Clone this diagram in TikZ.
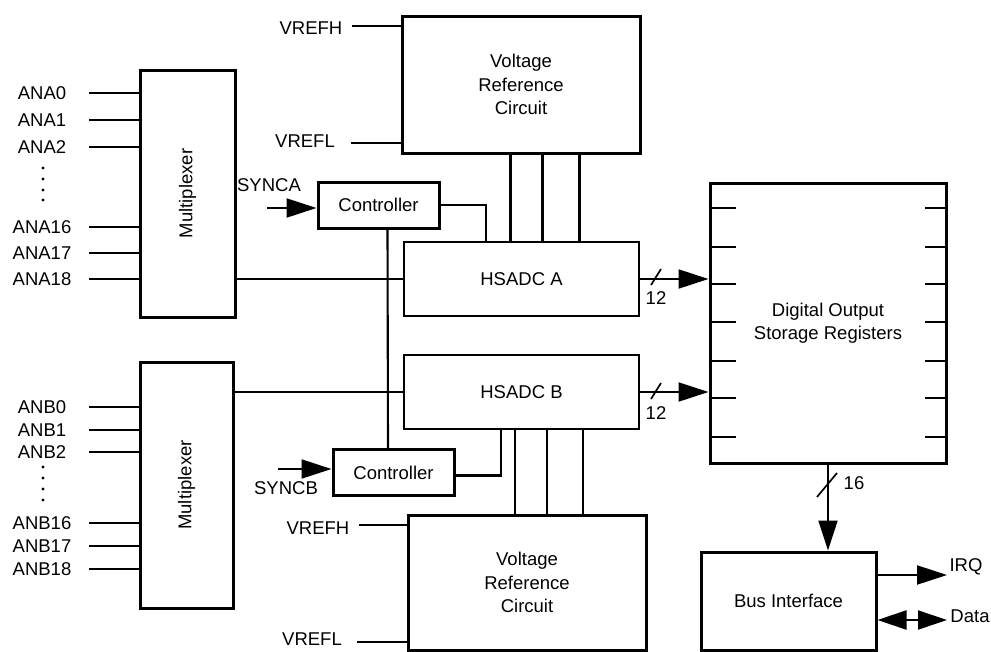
\documentclass[tikz,border=0pt]{standalone}
\usepackage{fontspec}
\setmainfont{Liberation Sans}
\usetikzlibrary{arrows.meta, positioning, calc}

\begin{document}
\begin{tikzpicture}[
    x=1pt, y=-1pt,
    font=\fontsize{18.5}{23.5}\selectfont,
    box/.style={rectangle, draw, line width=3pt, align=center, inner sep=0pt},
    adc/.style={rectangle, draw, line width=2pt, align=center,
                minimum width=235pt, minimum height=74pt},
    ctl/.style={box, minimum width=121pt, minimum height=46pt},
    wire/.style={line width=2.1pt},
    tick/.style={line width=1.7pt},
    arrow/.style={wire, -{Triangle[length=30pt, width=19pt]}},
    dbl/.style={wire, {Triangle[length=29pt, width=19pt]}-{Triangle[length=29pt, width=19pt]}},
    lbl/.style={inner sep=1pt}
]

\useasboundingbox (0,0) rectangle (991,651);

% ---- Converters and their controllers ----
\node[adc] (adca) at (521.5,279) {HSADC A};
\node[adc] (adcb) at (521.5,392) {HSADC B};
\node[ctl] (ctla) at (378.5,205) {Controller};
\node[ctl] (ctlb) at (393.5,472.5) {Controller};

% ---- Voltage reference circuits ----
\node[box, minimum width=238pt, minimum height=137pt] (vrefa) at (521,84.5)
    {Voltage\\Reference\\Circuit};
\node[box, minimum width=238pt, minimum height=135pt] (vrefb) at (527,582.5)
    {Voltage\\Reference\\Circuit};

% ---- Multiplexers (left column) ----
\node[box, minimum width=95pt, minimum height=247pt] (muxa) at (187.5,193.5) {};
\node[rotate=90] (muxatxt) at (muxa.center) {Multiplexer};
\node[box, minimum width=93pt, minimum height=246pt] (muxb) at (186.5,485) {};
\node[rotate=90] (muxbtxt) at (muxb.center) {Multiplexer};

% ---- Storage and bus (right column) ----
\node[box, minimum width=236pt, minimum height=280pt] (dosr) at (828,323)
    {Digital Output\\Storage Registers};
\node[box, minimum width=175pt, minimum height=98pt] (bus) at (788.5,601)
    {Bus Interface};

% ======== Analog inputs ========
\foreach \n/\y in {0/93,1/120,2/147,16/227,17/253,18/279} {
    \coordinate (ina\n) at (89,\y);
    \node[lbl] (anal\n) at (42,\y) {ANA\n};
    \draw[wire] (ina\n) -- (ina\n -| muxa.west);
}
\foreach \n/\y in {0/407,1/430,2/452,16/523,17/546,18/569} {
    \coordinate (inb\n) at (89,\y);
    \node[lbl] (anbl\n) at (42,\y) {ANB\n};
    \draw[wire] (inb\n) -- (inb\n -| muxb.west);
}
\foreach \y in {168,179,190,200,467,478,489,500}
    \fill (43,\y) circle (1.6pt);

% ======== Multiplexer -> HSADC ========
\draw[wire] (muxa.east |- adca.west) -- (adca.west);
\draw[wire] (muxb.east |- adcb.west) -- (adcb.west);

% ======== Reference voltages ========
\coordinate (vha) at (352,26);
\coordinate (vla) at (351,143);
\coordinate (vhb) at (359,525);
\coordinate (vlb) at (357,642);
\node[lbl] (vhalbl) at (311,28) {VREFH};
\node[lbl] (vlalbl) at (305,141) {VREFL};
\node[lbl] (vhblbl) at (318,528) {VREFH};
\node[lbl] (vlblbl) at (312,639) {VREFL};
\draw[wire] (vha) -- (vha -| vrefa.west);
\draw[wire] (vla) -- (vla -| vrefa.west);
\draw[wire] (vhb) -- (vhb -| vrefb.west);
\draw[wire] (vlb) -- (vlb -| vrefb.west);

\foreach \dx in {110,142,179}
    \draw[wire] ([xshift=\dx pt]vrefa.south west) -- ([xshift=\dx pt]vrefa.south west |- adca.north);
\foreach \dx in {112,144,180}
    \draw[wire] ([xshift=\dx pt]adcb.south west) -- ([xshift=\dx pt]adcb.south west |- vrefb.north);

% ======== Controllers ========
\coordinate (synca) at (267,208);
\coordinate (syncb) at (278,469);
\node[lbl] (syncalbl) at (269,185) {SYNCA};
\node[lbl] (syncblbl) at (286,488) {SYNCB};
\draw[arrow] (synca) -- (synca -| ctla.west);
\draw[arrow] (syncb) -- (syncb -| ctlb.west);
\draw[wire] (ctla.east) -| ([xshift=83pt]adca.north west);
\draw[wire] ([yshift=-3pt]ctlb.east) -| ([xshift=98pt]adcb.south west);
\draw[wire] ([xshift=9pt]ctla.south) -- ([xshift=-5.5pt]ctlb.north);

% ======== Data path ========
\draw[arrow] (adca.east) -- (adca.east -| dosr.west);
\draw[arrow] (adcb.east) -- (adcb.east -| dosr.west);
\coordinate (sla) at (656,277);
\coordinate (slb) at (656,391);
\draw[tick] ($(sla)+(-5,8)$) -- ($(sla)+(5,-8)$);
\draw[tick] ($(slb)+(-5,8)$) -- ($(slb)+(5,-8)$);
\node[lbl] (wa) at (656,298) {12};
\node[lbl] (wb) at (656,413) {12};

\foreach \y in {208,247,284,322,361,398,437} {
    \draw[wire] (dosr.west |- 0,\y) -- ++(27,0);
    \draw[wire] (dosr.east |- 0,\y) -- ++(-23,0);
}

\draw[arrow] (dosr.south) -- (dosr.south |- bus.north);
\coordinate (slc) at (827,485);
\draw[tick] ($(slc)+(-10,12)$) -- ($(slc)+(10,-12)$);
\node[lbl] (wc) at (854,483) {16};

% ======== Bus outputs ========
\coordinate (irq) at (947,575);
\coordinate (data) at (947,620);
\draw[arrow] (bus.east |- irq) -- (irq);
\draw[dbl] (bus.east |- data) -- (data);
\node[lbl] (irqlbl) at (966,567) {IRQ};
\node[lbl] (datalbl) at (970,616) {Data};

\end{tikzpicture}
\end{document}
